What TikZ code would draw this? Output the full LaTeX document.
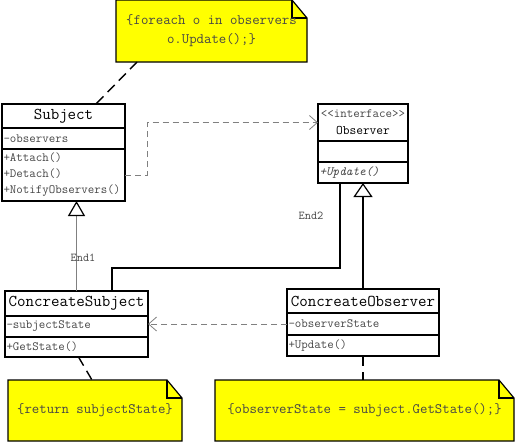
\documentclass[tikz,border=0pt]{standalone}
\usepackage{fontspec}
\usetikzlibrary{positioning,arrows.meta,backgrounds}
\definecolor{noteyellow}{RGB}{255,255,0}
\definecolor{textgray}{RGB}{70,70,70}
\tikzset{
  umlrow/.style={draw, line width=1.2pt, outer sep=0pt, inner xsep=1.5pt, inner ysep=0pt,
    anchor=north west, align=left, text=textgray, font=\ttfamily\fontsize{12.6}{16}\selectfont},
  umltitle/.style={umlrow, align=center, text=black, font=\ttfamily\fontsize{16.5}{17}\selectfont},
  note/.style={anchor=north west, outer sep=0pt, align=center, text=textgray,
    font=\ttfamily\fontsize{14.4}{19}\selectfont},
  notebox/.style={draw, line width=1.2pt, fill=noteyellow},
  notelink/.style={line width=1.4pt, dash pattern=on 10pt off 6pt},
  depend/.style={gray, line width=0.8pt, dash pattern=on 6pt off 4pt,
    -{Straight Barb[length=8pt,width=14pt]}},
  inheritgray/.style={gray, line width=0.9pt,
    -{Triangle[open, length=15pt, width=17pt, color=black, line width=1.2pt]}},
  inheritbold/.style={line width=2pt, -{Triangle[open, length=14pt, width=19pt, line width=1.2pt]}},
  assoc/.style={line width=2pt},
  endlabel/.style={text=textgray, font=\ttfamily\fontsize{12}{13}\selectfont}
}
\begin{document}
\begin{tikzpicture}[x=1pt,y=-1pt]
\useasboundingbox (0,0) rectangle (515,442);
% Subject
\node[umltitle, text width=120pt, minimum height=24pt] (subjT) at (2,104) {Subject};
\node[umlrow, text width=120pt, minimum height=21pt, below=0pt of subjT] (subjA) {-observers};
\node[umlrow, text width=120pt, minimum height=52pt, below=0pt of subjA] (subjM) {+Attach()\\+Detach()\\+NotifyObservers()};
% Observer interface
\node[umltitle, text width=87pt, minimum height=37pt, font=\ttfamily\fontsize{13.1}{17}\selectfont] (obsT) at (318,104)
  {{\color{textgray}\fontsize{12.6}{17}\selectfont <{}<interface>{}>}\\Observer};
\node[umlrow, text width=87pt, minimum height=21pt, below=0pt of obsT] (obsA) {};
\node[umlrow, text width=87pt, minimum height=21pt, below=0pt of obsA,
  font=\ttfamily\itshape\fontsize{12.6}{16}\selectfont] (obsM) {+Update()};
% ConcreateSubject
\node[umltitle, text width=140pt, minimum height=25pt] (csubT) at (5,291) {ConcreateSubject};
\node[umlrow, text width=140pt, minimum height=21pt, below=0pt of csubT] (csubA) {-subjectState};
\node[umlrow, text width=140pt, minimum height=20pt, below=0pt of csubA] (csubM) {+GetState()};
% ConcreateObserver
\node[umltitle, text width=149pt, minimum height=24pt] (cobsT) at (287,289) {ConcreateObserver};
\node[umlrow, text width=149pt, minimum height=22pt, below=0pt of cobsT] (cobsA) {-observerState};
\node[umlrow, text width=149pt, minimum height=21pt, below=0pt of cobsA] (cobsM) {+Update()};
% Notes
\node[note, minimum width=191pt, minimum height=62pt] (noteNotify) at (116,0) {\{foreach o in observers\\o.Update();\}};
\node[note, minimum width=174pt, minimum height=61pt] (noteGet) at (8,380) {\{return subjectState\}};
\node[note, minimum width=299pt, minimum height=61pt] (noteUpdate) at (215,380) {\{observerState = subject.GetState();\}};
\begin{scope}[on background layer]
\foreach \n in {noteNotify,noteGet,noteUpdate} {
  \draw[notebox] (\n.south west) -- (\n.north west) -- ([xshift=-15pt]\n.north east)
    -- ([yshift=-18pt]\n.north east) -- (\n.south east) -- cycle;
  \draw[line width=1.2pt] ([xshift=-15pt]\n.north east) |- ([yshift=-18pt]\n.north east);
}
\end{scope}
% Note links
\draw[notelink] ([xshift=21pt]noteNotify.south west) -- ([xshift=94pt]subjT.north west);
\draw[notelink] ([xshift=2pt]csubM.south) -- ([xshift=84pt]noteGet.north west);
\draw[notelink] (cobsM.south) -- (noteUpdate.north -| cobsM.south);
% Generalizations
\draw[inheritgray] (csubT.north) -- (csubT.north |- subjM.south);
\draw[inheritbold] (cobsT.north) -- (obsM.south);
% Association
\coordinate (bend) at (112,268);
\draw[assoc] ([xshift=-23pt]obsM.south) |- (bend) -- (bend |- csubT.north);
% Dependencies
\draw[depend] (subjM.east) -- ++(22,0) |- (obsT.west);
\draw[depend] (cobsA.west) -- (cobsA.west -| csubA.east);
% End labels
\node[endlabel] (end1) at (83,258) {End1};
\node[endlabel] (end2) at (311,216) {End2};
\end{tikzpicture}
\end{document}
